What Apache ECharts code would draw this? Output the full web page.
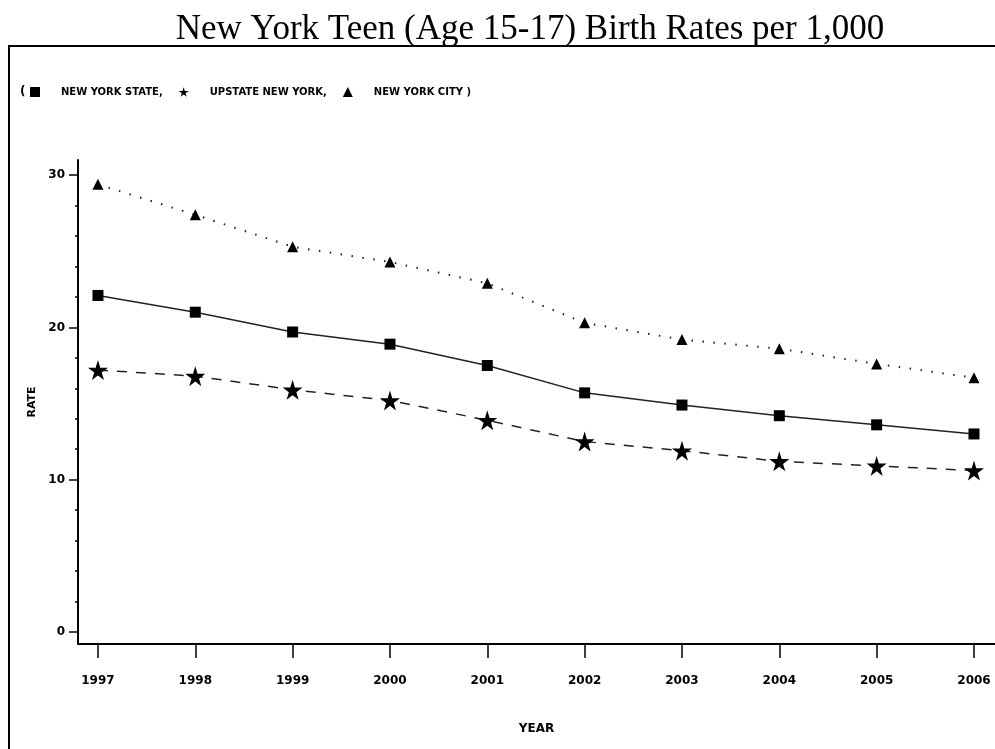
<!DOCTYPE html>
<html>
<head>
<meta charset="utf-8">
<script src="https://cdn.jsdelivr.net/npm/echarts@6/dist/echarts.min.js"></script>
<style>html,body{margin:0;padding:0;background:#fff}#c{width:995px;height:749px}</style>
</head>
<body>
<div id="c"></div>
<script>
var years = [1997, 1998, 1999, 2000, 2001, 2002, 2003, 2004, 2005, 2006];
var nyState = [22.1, 21.0, 19.7, 18.9, 17.5, 15.7, 14.9, 14.2, 13.6, 13.0];
var upstate = [17.2, 16.8, 15.9, 15.2, 13.9, 12.5, 11.9, 11.2, 10.9, 10.6];
var nyCity = [29.4, 27.4, 25.3, 24.3, 22.9, 20.3, 19.2, 18.6, 17.6, 16.7];
var yMajorTicks = [0, 10, 20, 30];
var yMinorTicks = [2, 4, 6, 8, 12, 14, 16, 18, 22, 24, 26, 28];
var seriesNames = ['NEW YORK STATE', 'UPSTATE NEW YORK', 'NEW YORK CITY'];

var STAR = 'path://M50,0 L61,35 L98,35 L68,57 L79,91 L50,70 L21,91 L32,57 L2,35 L39,35 Z';
function pairs(v) { return years.map(function (y, i) { return [y, v[i]]; }); }
var lab = { fontFamily: 'DejaVu Sans', fontWeight: 'bold', fontSize: 12, color: '#000' };

var chart = echarts.init(document.getElementById('c'), null, { renderer: 'canvas' });
chart.setOption({
  animation: false,
  backgroundColor: '#fff',
  title: {
    text: 'New York Teen (Age 15-17) Birth Rates per 1,000',
    left: 525, top: 7, textAlign: 'center',
    textStyle: { fontFamily: 'Liberation Serif', fontWeight: 'normal', fontSize: 35, color: '#000' }
  },
  graphic: [
    { type: 'rect', shape: { x: 9, y: 46, width: 1000, height: 720 }, style: { fill: 'none', stroke: '#000', lineWidth: 2 } },
    { type: 'text', x: 20, y: 92, style: { text: '(', fontFamily: 'DejaVu Sans', fontWeight: 'bold', fontSize: 12, fill: '#000', verticalAlign: 'middle' } }
  ],
  legend: {
    left: 25, top: 82,
    itemWidth: 10, itemHeight: 10, itemGap: 16,
    textStyle: { padding: [0, 0, 0, 16], fontFamily: 'DejaVu Sans', fontWeight: 'bold', fontSize: 10, color: '#000' },
    formatter: function (n) { return n === 'NEW YORK CITY' ? n + ' )' : n + ','; },
    data: [
      { name: seriesNames[0], icon: 'rect' },
      { name: seriesNames[1], icon: STAR },
      { name: seriesNames[2], icon: 'triangle' }
    ]
  },
  grid: { left: 78, right: 0, top: 160, bottom: 105, containLabel: false },
  xAxis: {
    type: 'value', min: 1996.795, max: 2006.216,
    name: 'YEAR', nameLocation: 'middle', nameGap: 79, nameTextStyle: lab,
    axisLine: { onZero: false, lineStyle: { color: '#000', width: 2 } },
    axisTick: { show: true, length: 14, inside: false, customValues: years, lineStyle: { color: '#000', width: 1.5 } },
    axisLabel: Object.assign({ customValues: years, margin: 31, formatter: function (v) { return String(v); } }, lab),
    splitLine: { show: false }
  },
  yAxis: [
    {
      type: 'value', min: -0.8, max: 31, position: 'left',
      name: 'RATE', nameLocation: 'middle', nameRotate: 90, nameGap: 40, nameTextStyle: Object.assign({}, lab, { fontSize: 11 }),
      axisLine: { show: true, onZero: false, lineStyle: { color: '#000', width: 2 } },
      axisTick: { show: true, length: 9, customValues: yMajorTicks, lineStyle: { color: '#000', width: 1.5 } },
      axisLabel: Object.assign({ customValues: yMajorTicks, margin: 13 }, lab),
      splitLine: { show: false }
    },
    {
      type: 'value', min: -0.8, max: 31, position: 'left', offset: 0,
      axisLine: { show: false },
      axisTick: { show: true, length: 3, customValues: yMinorTicks, lineStyle: { color: '#000', width: 1.5 } },
      axisLabel: { show: false },
      splitLine: { show: false }
    }
  ],
  series: [
    {
      name: seriesNames[0], type: 'line', data: pairs(nyState),
      symbol: 'rect', symbolSize: 11,
      itemStyle: { color: '#000' },
      lineStyle: { color: '#222', width: 1.5, type: 'solid' }
    },
    {
      name: seriesNames[1], type: 'line', data: pairs(upstate),
      symbol: STAR, symbolSize: 20,
      itemStyle: { color: '#000' },
      lineStyle: { color: '#222', width: 1.5, type: [10, 9] }
    },
    {
      name: seriesNames[2], type: 'line', data: pairs(nyCity),
      symbol: 'triangle', symbolSize: 11,
      itemStyle: { color: '#000' },
      lineStyle: { color: '#222', width: 2, type: [1.5, 9.5] }
    }
  ]
});
</script>
</body>
</html>
